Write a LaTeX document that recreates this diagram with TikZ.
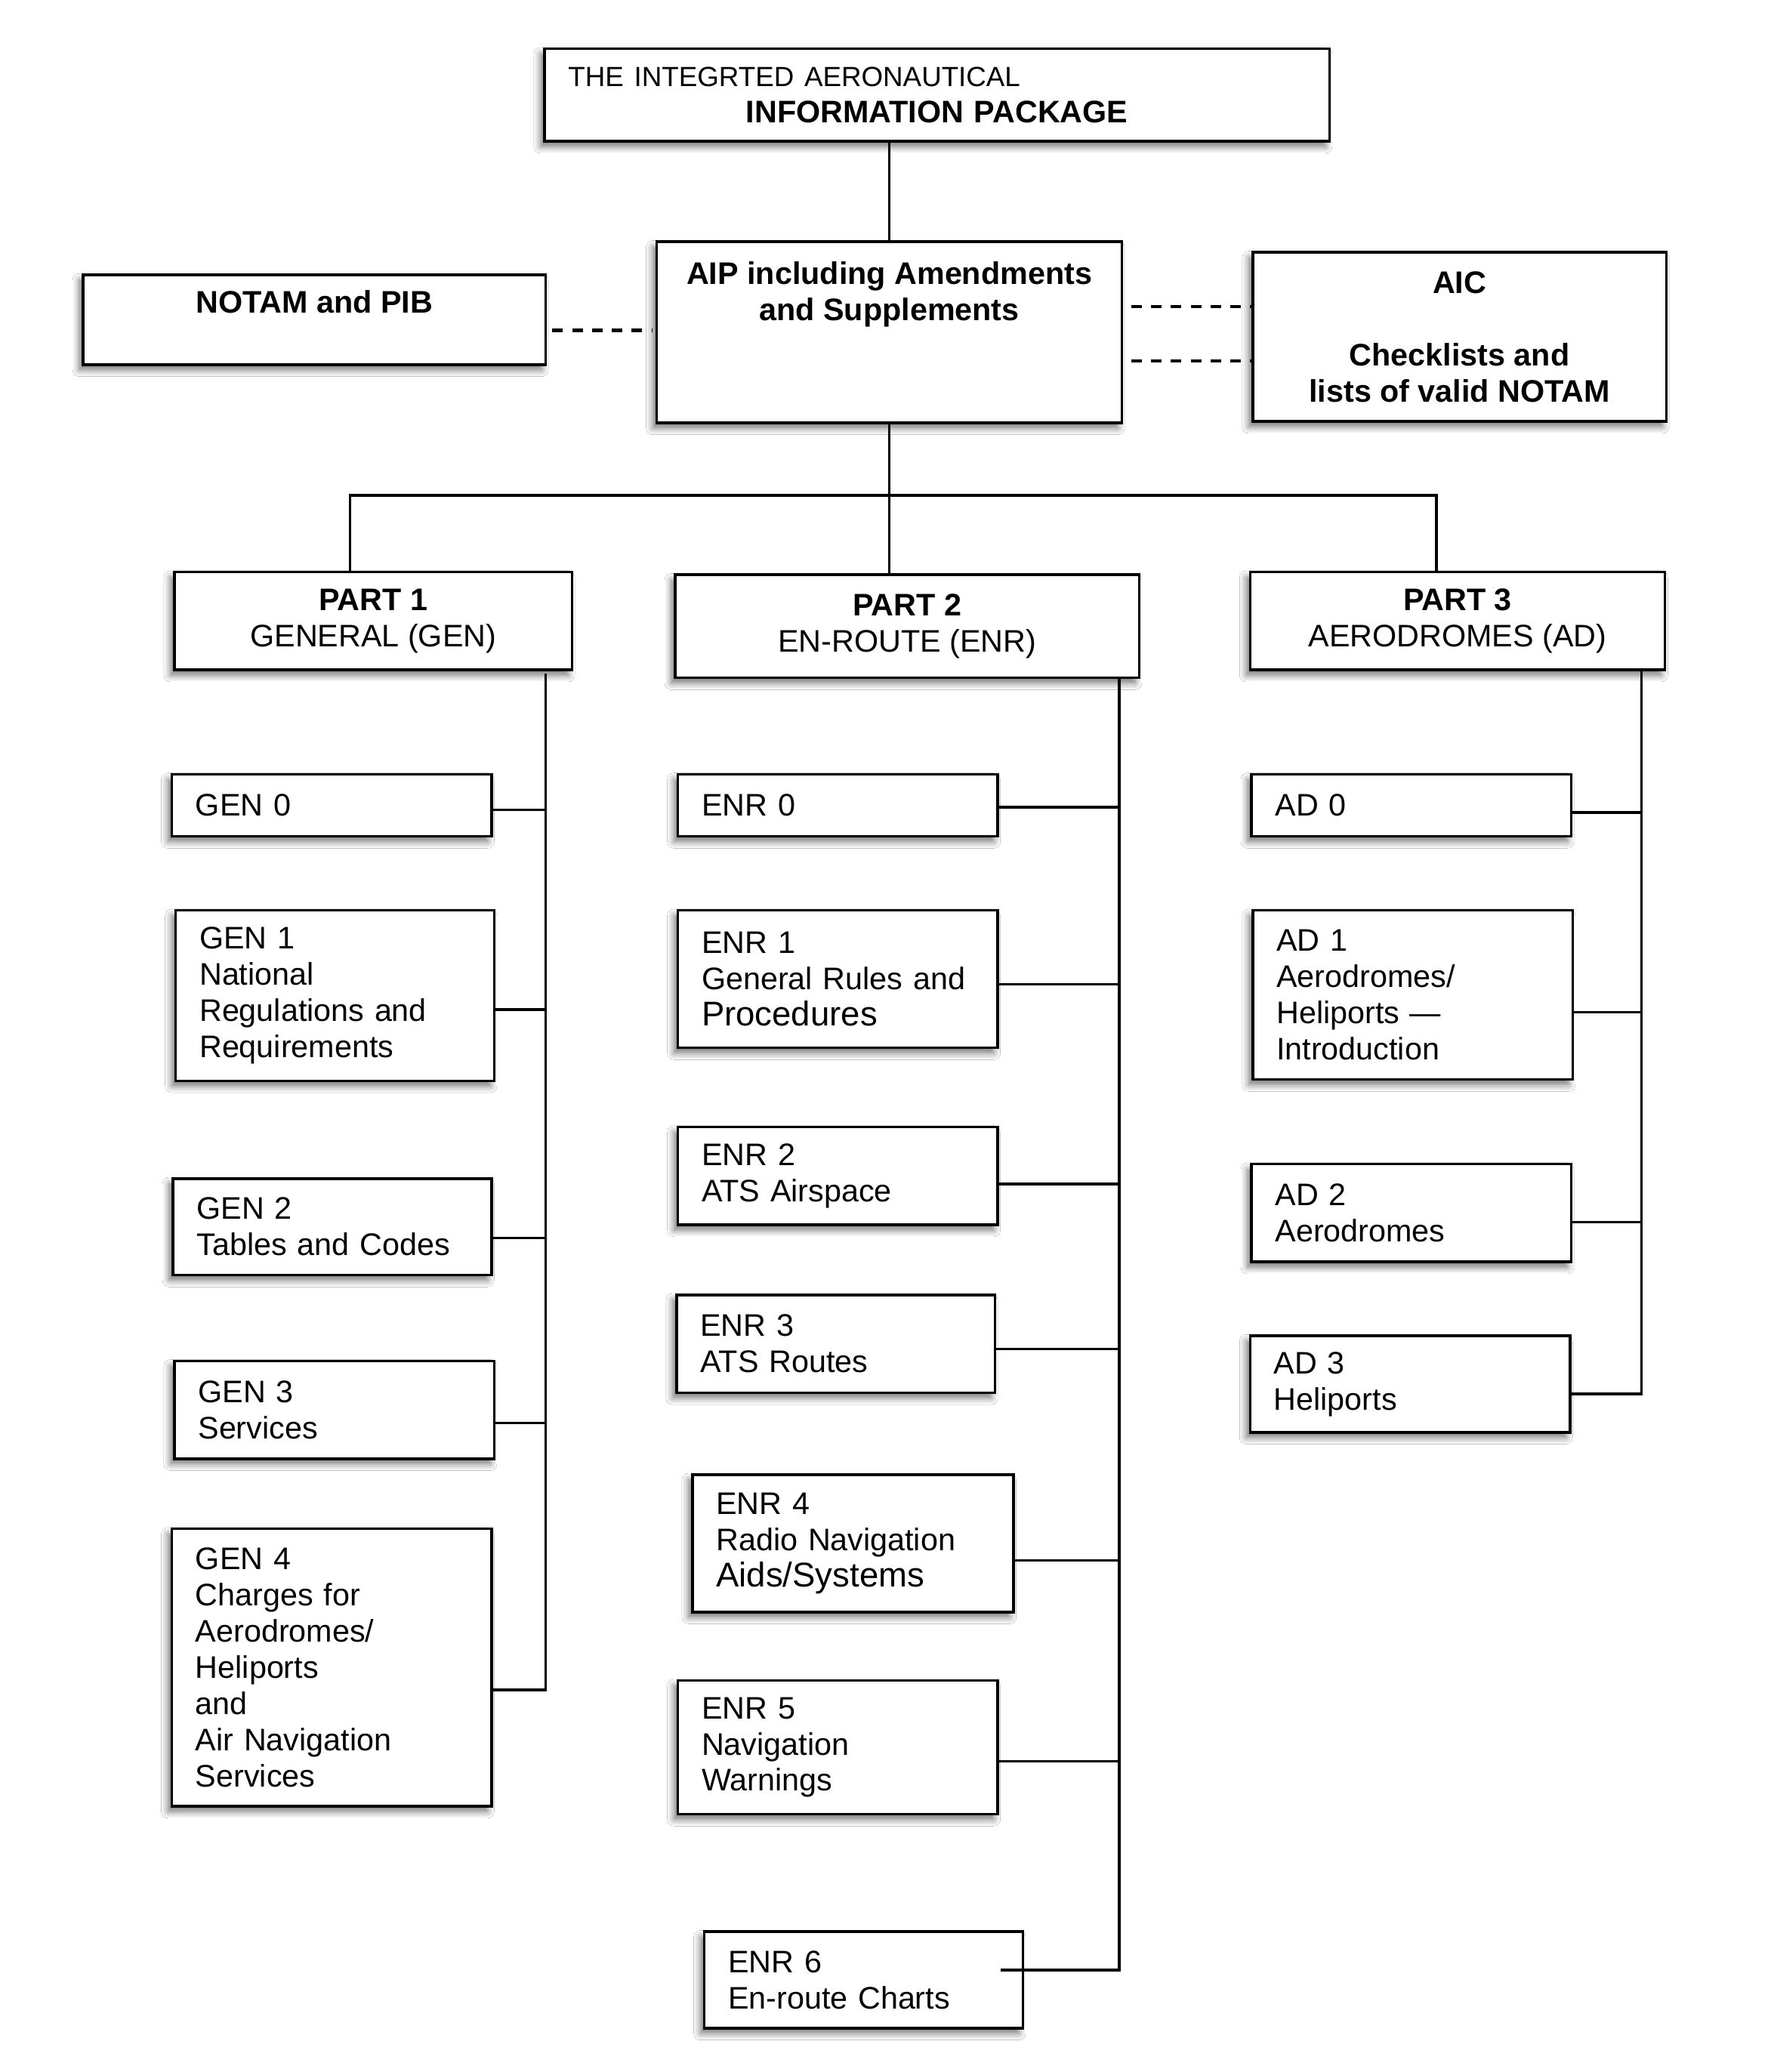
\documentclass[tikz,border=0pt]{standalone}
\usepackage{fontspec}
\setmainfont{Liberation Sans}
\usetikzlibrary{shadows.blur}
\newcommand{\bigline}[1]{{\fontsize{26}{29}\selectfont #1}}
\begin{document}
\begin{tikzpicture}[x=1pt,y=-1pt,
  box/.style={draw=black, line width=2pt, fill=white, inner sep=0pt,
    blur shadow={shadow xshift=-3pt, shadow yshift=-4pt, shadow blur radius=5pt, shadow blur steps=8, shadow opacity=55},
    font=\fontsize{23.6}{27.4}\selectfont},
  lbox/.style={box, align=left, inner xsep=18pt},
  cbox/.style={box, align=center},
  link/.style={line width=2pt},
  dashlink/.style={line width=2.5pt, dash pattern=on 8pt off 7pt}
]
\useasboundingbox[fill=white] (0,0) rectangle (1339.6,1568.2);

% top level
\node[lbox, text width=558pt, minimum height=70pt] (pkg) at (709,72)
  {{\fontsize{21}{27.4}\selectfont THE INTEGRTED AERONAUTICAL}\\\makebox[558pt][c]{\bfseries INFORMATION PACKAGE}};
\node[cbox, font=\fontsize{23.6}{27.4}\selectfont\bfseries, minimum width=352pt, minimum height=137pt] (aip) at (673,251.5)
  {AIP including Amendments\\and Supplements\\\mbox{}\\[8pt]\mbox{}};
\node[cbox, font=\fontsize{23.6}{27.4}\selectfont\bfseries, minimum width=350pt, minimum height=68pt] (notam) at (238,242)
  {NOTAM and PIB\\\mbox{}};
\node[cbox, font=\fontsize{23.6}{27.4}\selectfont\bfseries, minimum width=313pt, minimum height=128pt] (aic) at (1104.5,255)
  {AIC\\\mbox{}\\Checklists and\\lists of valid NOTAM};

% parts
\node[cbox, minimum width=301pt, minimum height=74pt] (p1) at (282.5,470) {\textbf{PART 1}\\GENERAL (GEN)};
\node[cbox, minimum width=351pt, minimum height=78pt] (p2) at (686.5,474) {\textbf{PART 2}\\EN-ROUTE (ENR)};
\node[cbox, minimum width=314pt, minimum height=74pt] (p3) at (1103,470) {\textbf{PART 3}\\AERODROMES (AD)};

% GEN
\node[lbox, text width=206pt, minimum height=47pt] (gen0) at (251,609.5) {GEN 0};
\node[lbox, text width=205pt, minimum height=129pt] (gen1) at (253.5,753.5) {GEN 1\\National\\Regulations and\\Requirements};
\node[lbox, text width=205pt, minimum height=73pt] (gen2) at (251.5,928.5) {GEN 2\\Tables and Codes};
\node[lbox, text width=206pt, minimum height=74pt] (gen3) at (253,1067) {GEN 3\\Services};
\node[lbox, text width=206pt, minimum height=210pt] (gen4) at (251,1262) {GEN 4\\Charges for\\Aerodromes/\\Heliports\\and\\Air Navigation\\Services};

% ENR
\node[lbox, text width=206pt, minimum height=47pt] (enr0) at (634,609.5) {ENR 0};
\node[lbox, text width=206pt, minimum height=104pt] (enr1) at (634,741) {ENR 1\\General Rules and\\\bigline{Procedures}};
\node[lbox, text width=206pt, minimum height=74pt] (enr2) at (634,890) {ENR 2\\ATS Airspace};
\node[lbox, text width=205pt, minimum height=74pt] (enr3) at (632.5,1017) {ENR 3\\ATS Routes};
\node[lbox, text width=207pt, minimum height=104pt] (enr4) at (645.5,1168) {ENR 4\\Radio Navigation\\\bigline{Aids/Systems}};
\node[lbox, text width=206pt, minimum height=101pt] (enr5) at (634,1322.5) {ENR 5\\Navigation\\Warnings};
\node[lbox, text width=205pt, minimum height=73pt] (enr6) at (653.5,1498.5) {ENR 6\\En-route Charts};

% AD
\node[lbox, text width=206pt, minimum height=47pt] (ad0) at (1068,609.5) {AD 0};
\node[lbox, text width=206pt, minimum height=128pt] (ad1) at (1069,753) {AD 1\\Aerodromes/\\Heliports ---\\Introduction};
\node[lbox, text width=206pt, minimum height=74pt] (ad2) at (1068,918) {AD 2\\Aerodromes};
\node[lbox, text width=206pt, minimum height=73pt] (ad3) at (1067,1047.5) {AD 3\\Heliports};

% coordinates
\coordinate (d1) at (0,250);
\coordinate (d2) at (0,232);
\coordinate (d3) at (0,273);
\coordinate (b1) at (265,375);
\coordinate (b3) at (1087,375);
\coordinate (gtop) at (413,510);
\coordinate (g0) at (413,613);
\coordinate (g1) at (413,764);
\coordinate (g2) at (413,937);
\coordinate (g3) at (413,1077);
\coordinate (g4) at (413,1279);
\coordinate (etop) at (847,513);
\coordinate (e0) at (847,611);
\coordinate (e1) at (847,745);
\coordinate (e2) at (847,896);
\coordinate (e3) at (847,1021);
\coordinate (e4) at (847,1181);
\coordinate (e5) at (847,1333);
\coordinate (e6) at (847,1491);
\coordinate (e6in) at (757,1491);
\coordinate (atop) at (1242,508);
\coordinate (a0) at (1242,615);
\coordinate (a1) at (1242,766);
\coordinate (a2) at (1242,925);
\coordinate (a3) at (1242,1055);

% connectors top
\draw[link] (aip.north) -- (aip.north |- pkg.south);
\draw[link] (aip.south) -- (aip.south |- p2.north);
\draw[link] (b1 |- p1.north) -- (b1) -- (b3) -- (b3 |- p3.north);
\draw[dashlink, shorten <=4pt, shorten >=2pt] (notam.east |- d1) -- (aip.west |- d1);
\draw[dashlink, shorten <=6pt] (aip.east |- d2) -- (aic.west |- d2);
\draw[dashlink, shorten <=6pt] (aip.east |- d3) -- (aic.west |- d3);

% GEN connectors
\draw[link] (gtop) -- (g4) -- (gen4.east |- g4);
\draw[link] (gen0.east |- g0) -- (g0);
\draw[link] (gen1.east |- g1) -- (g1);
\draw[link] (gen2.east |- g2) -- (g2);
\draw[link] (gen3.east |- g3) -- (g3);

% ENR connectors
\draw[link] (etop) -- (e6) -- (e6in);
\draw[link] (enr0.east |- e0) -- (e0);
\draw[link] (enr1.east |- e1) -- (e1);
\draw[link] (enr2.east |- e2) -- (e2);
\draw[link] (enr3.east |- e3) -- (e3);
\draw[link] (enr4.east |- e4) -- (e4);
\draw[link] (enr5.east |- e5) -- (e5);

% AD connectors
\draw[link] (atop) -- (a3) -- (ad3.east |- a3);
\draw[link] (ad0.east |- a0) -- (a0);
\draw[link] (ad1.east |- a1) -- (a1);
\draw[link] (ad2.east |- a2) -- (a2);
\end{tikzpicture}
\end{document}
